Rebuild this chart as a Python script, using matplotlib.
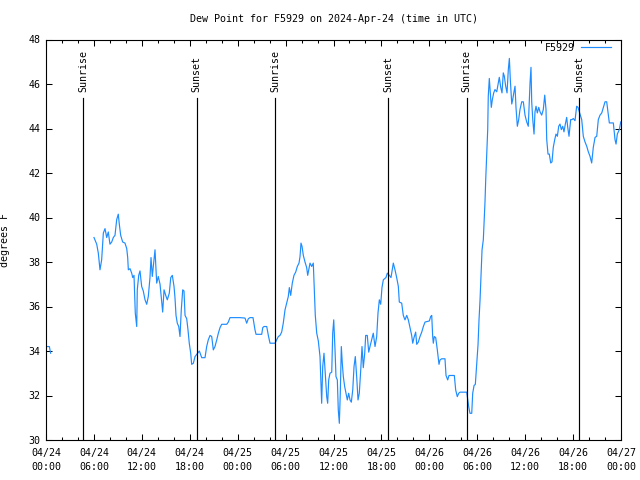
import numpy as np
import matplotlib
matplotlib.use("Agg")
import matplotlib.pyplot as plt
from matplotlib.ticker import MultipleLocator, FuncFormatter

# hours since 2024-04-24 00:00 UTC
hours = [0.08, 0.42, 0.58, np.nan,
 6.01, 6.35, 6.55, 6.76, 6.97, 7.18, 7.39, 7.60, 7.80, 8.01, 8.23, 8.43, 8.64, 8.85, 9.05, 9.18,
 9.35, 9.60, 9.89, 10.11, 10.23, 10.31, 10.52, 10.73, 10.86, 11.02, 11.18, 11.36, 11.43, 11.61,
 11.77, 11.98, 12.18, 12.40, 12.61, 12.81, 13.02, 13.15, 13.31, 13.52, 13.65, 13.86, 14.06, 14.28,
 14.49, 14.61, 14.78, 14.99, 15.19, 15.44, 15.62, 15.82, 16.03, 16.15, 16.28, 16.44, 16.62, 16.78,
 16.94, 17.12, 17.28, 17.41, 17.62, 17.78, 17.94, 18.12, 18.24, 18.45, 18.66, 18.87, 19.20, 19.50,
 19.91, 20.12, 20.32, 20.54, 20.75, 20.95, 21.16, 21.38, 21.58, 21.79, 22.00, 22.63, 22.83, 23.04,
 24.29, 24.92, 25.13, 25.33, 25.54, 25.92, 26.17, 26.30, 27.01, 27.14, 27.30, 27.64, 27.84, 28.05,
 28.68, 28.89, 29.09, 29.30, 29.51, 29.71, 29.93, 30.14, 30.34, 30.47, 30.64, 30.84, 31.05, 31.27,
 31.47, 31.68, 31.81, 31.93, 32.06, 32.22, 32.43, 32.64, 32.77, 32.90, 33.06, 33.27, 33.47, 33.56,
 33.72, 33.90, 34.10, 34.31, 34.44, 34.52, 34.65, 34.81, 34.97, 35.15, 35.27, 35.40, 35.56, 35.78,
 35.90, 36.03, 36.19, 36.31, 36.48, 36.60, 36.73, 36.85, 36.98, 37.10, 37.23, 37.40, 37.57, 37.73,
 37.90, 38.07, 38.23, 38.41, 38.57, 38.73, 38.91, 39.07, 39.23, 39.41, 39.57, 39.73, 39.91, 40.03,
 40.23, 40.41, 40.57, 40.78, 40.98, 41.20, 41.41, 41.57, 41.74, 41.91, 42.07, 42.24, 42.57, 42.74,
 42.99, 43.20, 43.36, 43.49, 43.70, 43.91, 44.12, 44.24, 44.54, 44.74, 44.95, 45.17, 45.37, 45.58,
 45.79, 45.92, 46.08, 46.29, 46.42, 46.62, 46.83, 47.05, 47.25, 47.46, 48.00, 48.17, 48.30, 48.42,
 48.50, 48.62, 48.80, 49.00, 49.21, 49.34, 49.55, 49.96, 50.09, 50.30, 50.46, 51.13, 51.30, 51.50,
 51.68, 51.84, 52.68, 52.76, 52.93, 53.09, 53.31, 53.43, 53.60, 53.76, 53.93, 54.10, 54.22, 54.35,
 54.47, 54.60, 54.76, 54.85, 54.97, 55.06, 55.18, 55.31, 55.38, 55.51, 55.64, 55.76, 55.89, 56.06,
 56.22, 56.44, 56.64, 56.76, 56.94, 57.10, 57.26, 57.39, 57.56, 57.73, 57.89, 58.02, 58.14, 58.32,
 58.44, 58.60, 58.73, 58.85, 59.02, 59.19, 59.35, 59.57, 59.77, 59.98, 60.19, 60.39, 60.61, 60.73,
 60.82, 60.95, 61.11, 61.23, 61.36, 61.52, 61.70, 61.86, 62.07, 62.27, 62.45, 62.61, 62.70, 62.86,
 63.02, 63.20, 63.36, 63.52, 63.70, 63.86, 64.03, 64.20, 64.36, 64.53, 64.70, 64.86, 65.03, 65.20,
 65.33, 65.49, 65.70, 65.87, 66.03, 66.24, 66.45, 66.62, 66.78, 67.08, 67.28, 67.49, 67.71, 67.91,
 68.12, 68.33, 68.53, 68.75, 68.96, 69.16, 69.37, 69.59, 69.79, 70.00, 70.21, 70.41, 70.54, 70.84,
 71.04, 71.25, 71.38, 71.54, 71.79, 71.97]

dewpoint = [34.2, 34.2, 33.9, np.nan,
 39.1, 38.8, 38.4, 37.65, 38.1, 39.3, 39.5, 39.1, 39.35, 38.8, 38.9, 39.1, 39.2, 39.9, 40.15, 39.7,
 39.2, 38.9, 38.85, 38.6, 38.2, 37.65, 37.7, 37.5, 37.3, 37.4, 35.7, 35.1, 36.75, 37.4,
 37.6, 36.9, 36.7, 36.3, 36.1, 36.45, 37.3, 38.2, 37.35, 38.1, 38.55, 37.05, 37.35, 37.0,
 36.2, 35.75, 36.75, 36.5, 36.3, 36.6, 37.3, 37.4, 36.9, 36.4, 35.6, 35.25, 35.1, 34.65,
 35.85, 36.75, 36.7, 35.6, 35.45, 34.95, 34.35, 33.9, 33.4, 33.45, 33.75, 33.85, 34.0, 33.7,
 33.7, 34.2, 34.5, 34.7, 34.65, 34.05, 34.2, 34.5, 34.8, 35.05, 35.2, 35.2, 35.3, 35.5,
 35.5, 35.48, 35.25, 35.45, 35.5, 35.5, 34.95, 34.75, 34.75, 35.05, 35.1, 35.1, 34.7, 34.35,
 34.35, 34.5, 34.65, 34.7, 34.85, 35.25, 35.85, 36.15, 36.45, 36.85, 36.5, 37.05, 37.4, 37.55,
 37.8, 37.95, 38.25, 38.85, 38.7, 38.3, 38.0, 37.75, 37.4, 37.65, 37.95, 37.8, 37.95, 37.1,
 35.6, 34.8, 34.45, 33.75, 32.4, 31.65, 33.3, 33.9, 33.0, 31.95, 31.65, 32.7, 33.0, 33.05,
 34.8, 35.4, 34.05, 32.85, 32.7, 31.35, 30.75, 32.1, 34.2, 33.45, 32.85, 32.4, 32.1, 31.8,
 32.1, 31.8, 31.7, 32.25, 33.3, 33.75, 32.8, 31.8, 32.1, 33.15, 34.2, 33.25, 33.9, 34.7,
 34.7, 33.95, 34.2, 34.5, 34.8, 34.2, 34.65, 35.7, 36.3, 36.1, 36.85, 37.2, 37.3, 37.5,
 37.4, 37.3, 37.65, 37.95, 37.65, 37.3, 36.9, 36.2, 36.15, 35.6, 35.4, 35.6, 35.4, 35.05,
 34.7, 34.35, 34.6, 34.85, 34.3, 34.4, 34.65, 34.85, 35.1, 35.3, 35.35, 35.55, 35.6, 34.65,
 34.35, 34.65, 34.6, 34.05, 33.4, 33.6, 33.65, 33.65, 32.9, 32.7, 32.9, 32.9, 32.25, 31.95,
 32.1, 32.15, 32.15, 31.95, 31.5, 31.2, 31.2, 32.1, 32.45, 32.5, 33.4, 34.3, 35.4, 36.3,
 37.35, 38.55, 39.0, 39.75, 40.7, 41.7, 42.75, 43.95, 45.45, 46.25, 45.6, 44.95, 45.3, 45.6,
 45.75, 45.65, 46.05, 46.3, 45.85, 45.6, 46.5, 46.35, 45.9, 45.6, 46.65, 47.15, 46.2, 45.1,
 45.3, 45.65, 45.9, 44.95, 44.1, 44.4, 44.85, 45.2, 45.2, 44.6, 44.3, 44.1, 46.05, 46.75,
 45.2, 44.4, 43.75, 44.75, 45.0, 44.7, 44.95, 44.75, 44.6, 44.85, 45.5, 44.85, 43.5, 42.85,
 42.85, 42.45, 42.5, 43.15, 43.5, 43.75, 43.65, 44.1, 44.2, 43.95, 44.1, 43.85, 44.2, 44.5,
 44.05, 43.65, 44.4, 44.4, 44.45, 44.35, 45.0, 44.95, 44.75, 44.4, 43.65, 43.4, 43.2, 42.95,
 42.75, 42.45, 43.15, 43.6, 43.65, 44.4, 44.6, 44.7, 44.95, 45.2, 45.2, 44.6, 44.25, 44.25,
 44.25, 43.5, 43.3, 43.75, 43.95, 44.3]

sun_hours = [4.67, 18.87, 28.70, 42.86, 52.68, 66.78]
sun_labels = ["Sunrise", "Sunset", "Sunrise", "Sunset", "Sunrise", "Sunset"]

day_labels = ["04/24", "04/25", "04/26", "04/27"]
title = "Dew Point for F5929 on 2024-Apr-24 (time in UTC)"
series_name = "F5929"

FONT = "DejaVu Sans Mono"
FS = 7.2
plt.rcParams['font.family'] = FONT

fig = plt.figure(figsize=(6.4, 4.8), dpi=100)
ax = fig.add_axes([46/640, 40/480, 575/640, 400.5/480])

ax.plot(hours, dewpoint, color="#1e8cff", lw=0.85, label=series_name)

for h, lab in zip(sun_hours, sun_labels):
    ax.plot([h, h], [30, 45.38], color="black", lw=0.85)
    ax.text(h, 45.66, lab, rotation=90, ha="center", va="bottom", fontsize=FS)

ax.set_xlim(0, 72)
ax.set_ylim(30, 48)
ax.xaxis.set_major_locator(MultipleLocator(6))
ax.xaxis.set_minor_locator(MultipleLocator(2))
ax.yaxis.set_major_locator(MultipleLocator(2))

def fmt(x, pos):
    d = int(round(x)) // 24
    hh = int(round(x)) % 24
    return f"{day_labels[d]}\n{hh:02d}:00"
ax.xaxis.set_major_formatter(FuncFormatter(fmt))
ax.yaxis.set_major_formatter(FuncFormatter(lambda v, p: f"{v:.0f}"))

ax.tick_params(axis="both", which="both", direction="in", top=True, right=True,
               labelsize=FS, width=0.75)
ax.tick_params(axis="x", which="major", length=4, pad=6)
ax.tick_params(axis="x", which="minor", length=2)
ax.tick_params(axis="y", which="major", length=4, pad=4)
for lab in ax.get_xticklabels():
    lab.set_linespacing(1.45)
for s in ax.spines.values():
    s.set_linewidth(0.8)

ax.set_ylabel("degrees F", fontsize=FS)
ax.yaxis.set_label_coords(-36/575, 0.5)

fig.text(333.5/640, 1 - 19/480, title, ha="center", va="center", fontsize=FS)

leg = ax.legend(loc="upper right", markerfirst=False, frameon=False, fontsize=FS,
                handlelength=3.0, handletextpad=0.6, borderaxespad=0.0, borderpad=0.0,
                bbox_to_anchor=(1 - 10/575, 1 - 3/400))

fig.savefig("out.png", dpi=100)
